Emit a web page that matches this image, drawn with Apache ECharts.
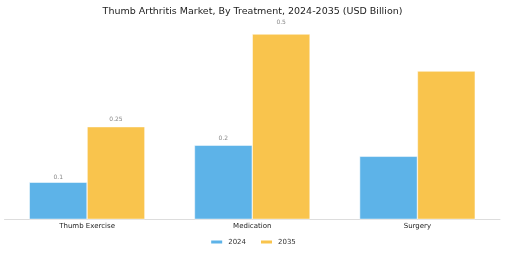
<!DOCTYPE html>
<html>
<head>
<meta charset="utf-8">
<script src="https://cdn.jsdelivr.net/npm/echarts@6/dist/echarts.min.js"></script>
<style>
  html, body { margin: 0; padding: 0; background: #fff; }
  #chart { width: 505px; height: 253px; }
</style>
</head>
<body>
<div id="chart"></div>
<script>
// values
const categories = ["Thumb Exercise", "Medication", "Surgery"];
const years = ["2024", "2035"];
const values2024 = [0.1, 0.2, 0.17];
const values2035 = [0.25, 0.5, 0.4];
// only these bars carry a value label in the reference
const labeled2024 = [true, true, false];
const labeled2035 = [true, true, false];

const colors = ["#5DB3E8", "#F9C44D"];
const font = "DejaVu Sans";

// label gap grows a little with bar height in the reference
const toData = (vals, flags) =>
  vals.map((v, i) => ({
    value: v,
    label: { show: flags[i], distance: 0.3 + v * 17.5 },
  }));

const chart = echarts.init(document.getElementById("chart"), null, { renderer: "canvas" });

chart.setOption({
  animation: false,
  color: colors,
  title: {
    text: "Thumb Arthritis Market, By Treatment, 2024-2035 (USD Billion)",
    left: "center",
    top: 1.5,
    textStyle: { fontFamily: font, fontSize: 9.5, fontWeight: "normal", color: "#222" },
  },
  grid: { left: 4.5, right: 5, top: 15.5, bottom: 33.7 },
  legend: {
    data: years,
    bottom: 2.5,
    left: "center",
    itemWidth: 13,
    itemHeight: 5,
    itemGap: 13,
    icon: "rect",
    textStyle: { fontFamily: font, fontSize: 7, color: "#333" },
  },
  xAxis: {
    type: "category",
    data: categories,
    axisLine: { lineStyle: { color: "#ddd" } },
    axisTick: { show: false },
    axisLabel: { fontFamily: font, fontSize: 7, color: "#222", margin: 3 },
  },
  yAxis: {
    type: "value",
    min: 0,
    max: 0.55,
    show: false,
    splitLine: { show: false },
  },
  series: [
    {
      name: years[0],
      type: "bar",
      barGap: "0%",
      barCategoryGap: "30%",
      data: toData(values2024, labeled2024),
      itemStyle: { borderColor: "#fff", borderWidth: 0.5 },
      label: { position: "top", fontFamily: font, fontSize: 6, color: "#888" },
    },
    {
      name: years[1],
      type: "bar",
      data: toData(values2035, labeled2035),
      itemStyle: { borderColor: "#fff", borderWidth: 0.5 },
      label: { position: "top", fontFamily: font, fontSize: 6, color: "#888" },
    },
  ],
});
</script>
</body>
</html>
